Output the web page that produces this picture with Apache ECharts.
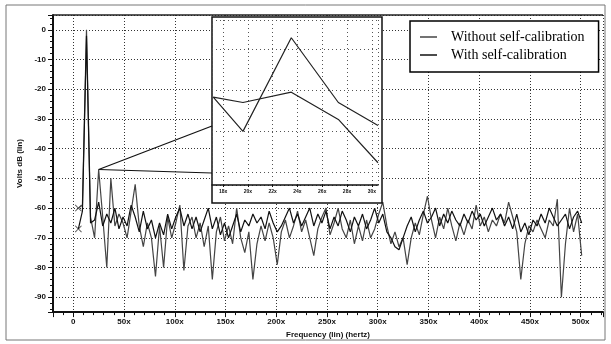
<!DOCTYPE html>
<html>
<head>
<meta charset="utf-8">
<script src="https://cdn.jsdelivr.net/npm/echarts@6/dist/echarts.min.js"></script>
<style>html,body{margin:0;background:#fff}#main{width:611px;height:344px}</style>
</head>
<body>
<div id="main"></div>
<script>
// frequency samples (x) shared by both traces
var freqs = [5,9,13,17,21,25,29,33,37,41,45,49,53,57,61,65,69,73,77,81,85,89,93,97,101,105,109,113,117,121,125,129,133,137,141,145,149,153,157,161,165,169,173,177,181,185,189,193,197,201,205,209,213,217,221,225,229,233,237,241,245,249,253,257,261,265,269,273,277,281,285,289,293,297,301,305,309,313,317,321,325,329,333,337,341,345,349,353,357,361,365,369,373,377,381,385,389,393,397,401,405,409,413,417,421,425,429,433,437,441,445,449,453,457,461,465,469,473,477,481,485,489,493,497,501];

var withoutCal = [-60,-59,0,-63,-70,-47,-63,-80,-50,-66,-62,-65,-70,-61,-52,-66,-73,-65,-70,-83,-66,-80,-63,-70,-65,-59,-81,-66,-63,-70,-65,-73,-66,-84,-68,-63,-71,-66,-72,-60,-70,-75,-68,-84,-72,-66,-71,-65,-70,-79,-68,-64,-70,-66,-61,-68,-64,-70,-76,-67,-63,-60,-69,-65,-60,-67,-70,-64,-72,-66,-71,-64,-70,-67,-62,-58,-66,-72,-68,-73,-70,-79,-70,-65,-69,-62,-56,-64,-70,-63,-67,-60,-66,-71,-65,-69,-64,-67,-59,-66,-63,-68,-64,-66,-62,-65,-58,-63,-68,-84,-72,-66,-68,-64,-67,-70,-64,-66,-57,-90,-72,-60,-68,-62,-76];

var withCal = [-67,-61,-2,-65,-64,-58,-66,-62,-65,-60,-67,-63,-66,-59,-63,-68,-61,-67,-64,-70,-65,-69,-62,-67,-63,-60,-66,-62,-67,-63,-68,-64,-60,-67,-63,-69,-65,-70,-66,-62,-68,-64,-66,-62,-65,-63,-67,-61,-65,-68,-66,-63,-60,-65,-62,-66,-63,-60,-66,-62,-65,-61,-67,-63,-66,-61,-64,-68,-63,-66,-62,-67,-64,-60,-65,-62,-68,-70,-73,-74,-70,-66,-63,-68,-64,-61,-65,-63,-60,-66,-62,-65,-61,-64,-66,-62,-65,-61,-64,-62,-66,-63,-60,-64,-62,-66,-63,-67,-62,-68,-65,-69,-64,-66,-62,-65,-60,-63,-66,-64,-62,-67,-63,-61,-65];

// zoomed inset
var insetFreqs = [17.2, 19.6, 23.5, 27.3, 30.5];
var insetWithout = [-61.7, -70, -47.3, -63, -68.6];
var insetWith = [-61.7, -63, -60.5, -67.1, -77.6];

var seriesNames = ['Without self-calibration', 'With self-calibration'];

function pairs(xs, ys) {
  return xs.map(function (x, i) { return [x, ys[i]]; });
}

var chartDom = document.getElementById('main');
var myChart = echarts.init(chartDom);

var axisFont = { fontFamily: 'Liberation Sans', fontWeight: 'bold', fontSize: 8, color: '#111' };
var dotted = { color: '#333', width: 1, type: [1, 2] };
var xMark = 'path://M0,1L1,0L5,4L9,0L10,1L6,5L10,9L9,10L5,6L1,10L0,9L4,5Z';

var option = {
  backgroundColor: '#fff',
  animation: false,
  grid: [
    { left: 53, right: 8, top: 15, bottom: 31 },
    { left: 212, top: 20, width: 166, height: 165, z: 60 }
  ],
  legend: {
    data: seriesNames,
    orient: 'vertical',
    left: 410,
    top: 21,
    icon: 'rect',
    itemWidth: 17,
    itemHeight: 1.5,
    itemGap: 4,
    padding: [9, 14, 10, 10],
    borderColor: '#000',
    borderWidth: 1.5,
    backgroundColor: '#fff',
    textStyle: { fontFamily: 'Liberation Serif', fontSize: 14, color: '#000', padding: [0, 0, 0, 9] }
  },
  xAxis: [
    {
      type: 'value',
      gridIndex: 0,
      min: -20,
      max: 522,
      splitNumber: 11,
      name: 'Frequency (lin) (hertz)',
      nameLocation: 'middle',
      nameGap: 16,
      nameTextStyle: axisFont,
      axisLine: { onZero: false, lineStyle: { color: '#111', width: 2 } },
      axisTick: { length: 5, lineStyle: { color: '#111' } },
      minorTick: { show: true, splitNumber: 5, length: 3, lineStyle: { color: '#111' } },
      axisLabel: {
        showMinLabel: false, showMaxLabel: false, margin: 6,
        fontFamily: 'Liberation Sans', fontWeight: 'bold', fontSize: 8, color: '#111',
        formatter: function (v) { return v === 0 ? '0' : v + 'x'; }
      },
      splitLine: { show: true, lineStyle: dotted }
    },
    {
      type: 'value',
      gridIndex: 1,
      min: 17.1,
      max: 30.5,
      splitNumber: 6,
      z: 60,
      axisLine: { onZero: false, lineStyle: { color: '#111', width: 1.5 } },
      axisTick: { length: 2, lineStyle: { color: '#111' } },
      axisLabel: {
        showMinLabel: false, showMaxLabel: false, margin: 4,
        fontFamily: 'Liberation Sans', fontWeight: 'bold', fontSize: 5, color: '#111',
        formatter: '{value}x'
      },
      splitLine: { show: true, lineStyle: { color: '#555', width: 1, type: [1, 3] } }
    }
  ],
  yAxis: [
    {
      type: 'value',
      gridIndex: 0,
      min: -95,
      max: 5,
      splitNumber: 10,
      name: 'Volts dB (lin)',
      nameLocation: 'middle',
      nameGap: 20,
      nameTextStyle: axisFont,
      axisLine: { show: true, onZero: false, lineStyle: { color: '#111', width: 2 } },
      axisTick: { show: true, length: 5, lineStyle: { color: '#111' } },
      minorTick: { show: true, splitNumber: 5, length: 3, lineStyle: { color: '#111' } },
      axisLabel: {
        showMinLabel: false, showMaxLabel: false, margin: 7,
        fontFamily: 'Liberation Sans', fontWeight: 'bold', fontSize: 8, color: '#111'
      },
      splitLine: { show: true, lineStyle: dotted }
    },
    {
      type: 'value',
      gridIndex: 1,
      min: -83,
      max: -43,
      splitNumber: 4,
      z: 60,
      axisLine: { show: false, onZero: false },
      axisTick: { show: false },
      axisLabel: { show: false },
      splitLine: { show: true, lineStyle: { color: '#555', width: 1, type: [1, 3] } }
    }
  ],
  series: [
    {
      name: seriesNames[0],
      type: 'line',
      symbol: 'none',
      color: '#444',
      lineStyle: { width: 1.2, color: '#444' },
      data: pairs(freqs, withoutCal)
    },
    {
      name: seriesNames[1],
      type: 'line',
      symbol: 'none',
      color: '#111',
      lineStyle: { width: 1.2, color: '#111' },
      data: pairs(freqs, withCal)
    },
    {
      // start markers
      type: 'scatter',
      symbol: xMark,
      symbolSize: 7,
      itemStyle: { color: '#333' },
      data: [[freqs[0], withoutCal[0]], [freqs[0], withCal[0]]]
    },
    {
      type: 'line',
      xAxisIndex: 1,
      yAxisIndex: 1,
      symbol: 'none',
      z: 60,
      lineStyle: { width: 1.2, color: '#222' },
      data: pairs(insetFreqs, insetWithout)
    },
    {
      type: 'line',
      xAxisIndex: 1,
      yAxisIndex: 1,
      symbol: 'none',
      z: 60,
      lineStyle: { width: 1.2, color: '#222' },
      data: pairs(insetFreqs, insetWith)
    }
  ]
};

option && myChart.setOption(option);

// frame, inset box and zoom lines
var src = myChart.convertToPixel({ gridIndex: 0 }, [freqs[5], withoutCal[5]]);
myChart.setOption({
  graphic: [
    { type: 'rect', z: 0, silent: true, shape: { x: 6, y: 5, width: 599, height: 335 },
      style: { fill: null, stroke: '#777', lineWidth: 1 } },
    { type: 'line', z: 10, silent: true, shape: { x1: 53, y1: 15, x2: 603, y2: 15 },
      style: { stroke: '#222', lineWidth: 1.5 } },
    { type: 'rect', z: 50, silent: true, shape: { x: 212, y: 17, width: 170, height: 186 },
      style: { fill: '#fff', stroke: '#111', lineWidth: 1.5 } },
    { type: 'line', z: 50, silent: true, shape: { x1: src[0], y1: src[1], x2: 212, y2: 126 },
      style: { stroke: '#111', lineWidth: 1.2 } },
    { type: 'line', z: 50, silent: true, shape: { x1: src[0], y1: src[1], x2: 212, y2: 173 },
      style: { stroke: '#111', lineWidth: 1.2 } }
  ]
});
</script>
</body>
</html>
